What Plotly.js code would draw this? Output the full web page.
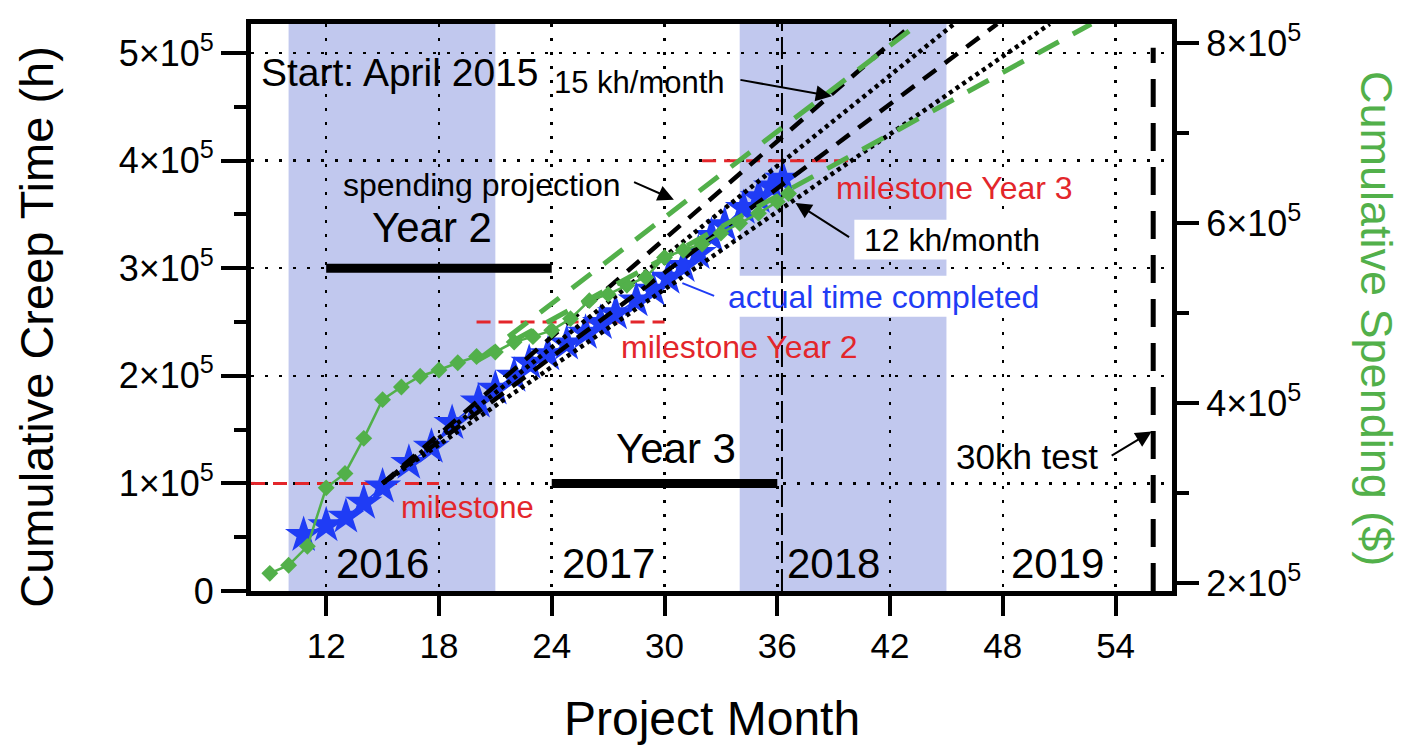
<!DOCTYPE html>
<html>
<head>
<meta charset="utf-8">
<script src="https://cdn.plot.ly/plotly-3.0.1.min.js"></script>
<style>html,body{margin:0;padding:0;background:#fff;}#chart{width:1405px;height:748px;}</style>
</head>
<body>
<div id="chart"></div>
<script>
// ---- data ----
const monthsActual = [10.8, 12.0, 13.05, 14.0, 15.0, 16.4, 17.6, 18.7, 20.1, 21.0, 22.0, 22.8, 23.8, 24.8, 25.8, 26.6, 27.4, 28.5, 29.4, 30.2, 31.0, 31.8, 32.5, 33.2, 34.2, 35.0, 35.7, 36.3];
const creepActual = [52000, 61000, 69000, 82000, 97000, 119000, 134000, 156000, 176000, 188000, 200000, 212000, 220000, 230000, 240000, 249000, 258000, 270000, 280000, 291000, 302000, 314000, 330000, 340000, 356000, 366000, 376000, 383000];

const monthsSpend = [9.0, 10.0, 11.0, 12.0, 13.0, 14.0, 15.0, 16.0, 17.0, 18.0, 19.0, 20.0, 21.0, 22.0, 23.0, 24.0, 25.0, 26.0, 27.0, 28.0, 29.0, 30.0, 31.0, 32.0, 33.0, 34.0, 35.0, 36.0, 36.6];
const spending = [211000, 220000, 241000, 306000, 322000, 361000, 404000, 418000, 430000, 437000, 445000, 452000, 457000, 468000, 474000, 481000, 494000, 514000, 521000, 531000, 540000, 562000, 570000, 577000, 589000, 600000, 611000, 624000, 633000];

// creep projections (start, end at top of frame)
const proj15Months = [15, 43.2];
const proj14Months = [15, 45.4];
const proj13Months = [15, 47.7];
const proj12Months = [15, 50.5];
const projCreep = [100000, 527000];

// spending projections
const spendProjHighMonths = [20, 43.5];
const spendProjLowMonths = [20, 52.7];
const spendProj = [447000, 821400];

// milestones
const milestone1Months = [8, 18];   const milestone1 = [100000, 100000];
const milestone2Months = [20, 30];  const milestone2 = [250000, 250000];
const milestone3Months = [32, 40];  const milestone3 = [400000, 400000];

// year bars
const year2Months = [12, 24]; const year2Level = [300000, 300000];
const year3Months = [24, 36]; const year3Level = [100000, 100000];

// vertical markers
const nowMonth = [36.25, 36.25]; const nowSpan = [0, 527000];
const testMonth = [56, 56];      const testSpan = [0, 505000];

// shaded years
const shadedYears = [[10, 21], [34, 45]];
const yearLabels = ['2016', '2017', '2018', '2019'];
const yearLabelMonths = [15, 27, 39, 50.9];

// axes ticks
const xTicks = [12, 18, 24, 30, 36, 42, 48, 54];
const yTicks = [0, 100000, 200000, 300000, 400000, 500000];
const yTickText = ['0', '1×10<sup>5</sup>', '2×10<sup>5</sup>', '3×10<sup>5</sup>', '4×10<sup>5</sup>', '5×10<sup>5</sup>'];
const yMinor = [50000, 150000, 250000, 350000, 450000];
const y2Ticks = [200000, 400000, 600000, 800000];
const y2TickText = ['2×10<sup>5</sup>', '4×10<sup>5</sup>', '6×10<sup>5</sup>', '8×10<sup>5</sup>'];
const y2Minor = [300000, 500000, 700000];

// ---- styling ----
const FONT = 'Liberation Sans, Arial, Helvetica, sans-serif';
const BLUE = '#1f3cf5';
const GREEN = '#52b04a';
const RED = '#e3262b';
const SHADE = '#c1c8ee';

const traces = [];
function seg(x, y, color, width, dash, axis) {
  traces.push({x: x, y: y, mode: 'lines', type: 'scatter', yaxis: axis || 'y',
    line: {color: color, width: width, dash: dash}, hoverinfo: 'skip', showlegend: false});
}
// milestones (below data)
seg(milestone1Months, milestone1, RED, 3, '14px,8px');
seg(milestone2Months, milestone2, RED, 3, '14px,8px');
seg(milestone3Months, milestone3, RED, 3, '14px,8px');
// year bars
seg(year2Months, year2Level, 'black', 9, 'solid');
seg(year3Months, year3Level, 'black', 9, 'solid');
// actual stars
traces.push({x: monthsActual, y: creepActual, type: 'scatter', mode: 'lines+markers',
  line: {color: BLUE, width: 1.5}, marker: {symbol: 'star', size: 28, color: BLUE},
  showlegend: false, hoverinfo: 'skip'});
// spending diamonds
traces.push({x: monthsSpend, y: spending, type: 'scatter', mode: 'lines+markers', yaxis: 'y2',
  line: {color: GREEN, width: 2.5}, marker: {symbol: 'diamond', size: 13, color: GREEN},
  showlegend: false, hoverinfo: 'skip'});
// creep projections
seg(proj15Months, projCreep, 'black', 4.5, '16px,11px');
seg(proj14Months, projCreep, 'black', 4.5, '4px,4px');
seg(proj13Months, projCreep, 'black', 4.5, '16px,11px');
seg(proj12Months, projCreep, 'black', 4.5, '4px,4px');
// spending projections
seg(spendProjHighMonths, spendProj, GREEN, 5, '24px,16px', 'y2');
seg(spendProjLowMonths, spendProj, GREEN, 5, '24px,16px', 'y2');
// vertical markers
seg(nowMonth, nowSpan, 'black', 2, '22px,6px');
seg(testMonth, testSpan, 'black', 5, '28px,16px');

const shapes = shadedYears.map(r => ({type: 'rect', xref: 'x', yref: 'paper', x0: r[0], x1: r[1], y0: 0, y1: 1,
  fillcolor: SHADE, line: {width: 0}, layer: 'below'}));
// white label boxes
shapes.push({type: 'rect', xref: 'x', yref: 'y', x0: 33.0, x1: 50.2, y0: 255000, y1: 293000,
  fillcolor: 'white', line: {width: 0}, layer: 'between'});
shapes.push({type: 'rect', xref: 'x', yref: 'y', x0: 40.1, x1: 50.0, y0: 308000, y1: 345000,
  fillcolor: 'white', line: {width: 0}, layer: 'between'});

function txt(text, x, y, size, color, anchor) {
  return {text: text, x: x, y: y, xref: 'x', yref: 'y', showarrow: false, xanchor: anchor || 'left', yanchor: 'middle',
    font: {family: FONT, size: size, color: color || 'black'}};
}
function arrow(hx, hy, tx, ty, color, head) {
  return {text: '', x: hx, y: hy, ax: tx, ay: ty, xref: 'x', yref: 'y', axref: 'x', ayref: 'y', showarrow: true,
    arrowhead: head === undefined ? 2 : head, arrowsize: 1.6, arrowwidth: 2, arrowcolor: color || 'black', standoff: 0, startstandoff: 0};
}
const annotations = [
  txt('Start: April 2015', 8.4, 482000, 39),
  txt('15 kh/month', 24.0, 473000, 31),
  arrow(38.9, 459800, 33.96, 475300),
  txt('spending projection', 12.8, 377700, 32),
  arrow(30.5, 363700, 28.3, 380700),
  txt('Year 2', 17.65, 337700, 42, 'black', 'center'),
  txt('Year 3', 30.6, 132000, 42, 'black', 'center'),
  txt('milestone', 15.9, 77200, 31, RED),
  txt('milestone Year 2', 27.6, 227000, 32, RED),
  txt('milestone Year 3', 39.0, 374900, 32, RED),
  txt('12 kh/month', 40.5, 326500, 32),
  arrow(36.97, 360700, 39.9, 328100),
  txt('actual time completed', 33.27, 273500, 32, BLUE),
  arrow(30.95, 286200, 32.72, 273800, BLUE, 0),
  txt('30kh test', 45.39, 124700, 35),
  arrow(55.92, 148200, 53.71, 124900),
  {text: 'Cumulative Creep Time (h)', xref: 'paper', yref: 'paper', x: -0.2324, y: 0.466, textangle: -90,
    showarrow: false, xanchor: 'center', yanchor: 'middle', font: {family: FONT, size: 47, color: 'black'}},
  {text: 'Cumulative Spending ($)', xref: 'paper', yref: 'paper', x: 1.2215, y: 0.4815, textangle: 90,
    showarrow: false, xanchor: 'center', yanchor: 'middle', font: {family: FONT, size: 45, color: GREEN}},
  {text: 'Project Month', xref: 'paper', yref: 'paper', x: 0.5005, y: -0.224,
    showarrow: false, xanchor: 'center', yanchor: 'middle', font: {family: FONT, size: 48, color: 'black'}}
];
yearLabels.forEach((t, i) => annotations.push(txt(t, yearLabelMonths[i], 26000, 42, 'black', 'center')));

const layout = {
  width: 1405, height: 748,
  margin: {l: 251, r: 233, t: 24, b: 157},
  paper_bgcolor: 'white', plot_bgcolor: 'white',
  showlegend: false,
  font: {family: FONT, color: 'black'},
  xaxis: {range: [8, 57], tickmode: 'array', tickvals: xTicks, ticks: 'outside', ticklen: 20, tickwidth: 4,
    tickcolor: 'black', showline: true, linewidth: 5, linecolor: 'black', mirror: true, zeroline: false,
    showgrid: true, gridcolor: 'black', gridwidth: 2.5, griddash: '3px,11px',
    tickfont: {family: FONT, size: 35, color: 'black'}},
  yaxis: {range: [0, 527000], tickmode: 'array', tickvals: yTicks, ticktext: yTickText, ticks: 'outside', ticklen: 25,
    tickwidth: 4, tickcolor: 'black', showline: true, linewidth: 5, linecolor: 'black', zeroline: false,
    showgrid: true, gridcolor: 'black', gridwidth: 2.5, griddash: '3px,11px',
    minor: {tickmode: 'array', tickvals: yMinor, ticks: 'outside', ticklen: 12, tickwidth: 4, tickcolor: 'black', showgrid: false},
    tickfont: {family: FONT, size: 36, color: 'black'}},
  yaxis2: {overlaying: 'y', side: 'right', range: [191400, 821400], tickmode: 'array', tickvals: y2Ticks, ticktext: y2TickText,
    ticks: 'outside', ticklen: 22, tickwidth: 4, tickcolor: 'black', showline: true, linewidth: 5, linecolor: 'black',
    zeroline: false, showgrid: false,
    minor: {tickmode: 'array', tickvals: y2Minor, ticks: 'outside', ticklen: 12, tickwidth: 4, tickcolor: 'black', showgrid: false},
    tickfont: {family: FONT, size: 36, color: 'black'}},
  shapes: shapes,
  annotations: annotations
};
Plotly.newPlot('chart', traces, layout, {staticPlot: true, displayModeBar: false});
</script>
</body>
</html>
